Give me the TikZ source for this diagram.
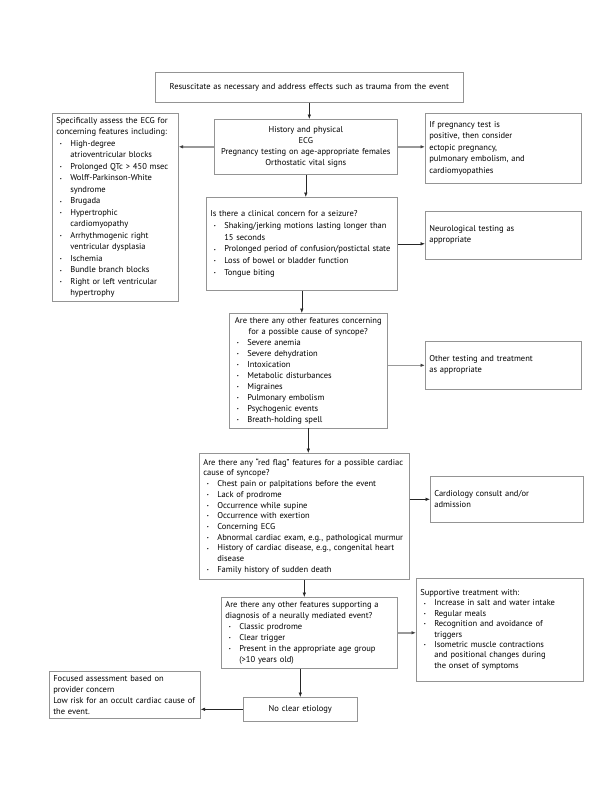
\documentclass[tikz,border=0pt]{standalone}
\usepackage{fontspec}
\setmainfont{PT Sans}
\usetikzlibrary{arrows.meta}
\hyphenpenalty=10000
\exhyphenpenalty=10000
\newcommand\nl{\hfil\break}
\newcommand\bi[1]{\par\hangindent=14pt\hangafter=1\noindent\makebox[14pt][l]{\hspace{3.5pt}\raisebox{0.8pt}{\fontsize{4.5}{4.5}\selectfont\textbullet}}#1\par}
\tikzset{
  box/.style={draw=black!42, line width=0.6pt, rectangle, inner sep=4pt, anchor=north west,
    font=\fontsize{8.5}{11}\selectfont, align=left},
  arr/.style={-{Latex[length=4.5pt,width=3.5pt]}, line width=0.6pt, draw=black!85},
  garr/.style={-{Latex[length=4.5pt,width=3.5pt,fill=black!75,color=black!75]}, line width=1.5pt, draw=black!40},
}
\begin{document}
\begin{tikzpicture}[x=1pt,y=-1pt]
\useasboundingbox (0,0) rectangle (612,792);
\fill[white] (0,0) rectangle (612,792);

\node[box, align=center, text width=300pt, minimum height=30pt] (top) at (155,72)
 {Resuscitate as necessary and address effects such as trauma from the event};

\node[box, align=center, text width=175pt, minimum height=55pt] (hist) at (214,119)
 {History and physical\\ECG\\Pregnancy testing on age-appropriate females\\Orthostatic vital signs};

\node[box, text width=118pt, minimum height=184pt, font=\fontsize{8.5}{11.5}\selectfont] (ecg) at (52,113)
 {Specifically assess the ECG for\\concerning features including:
  \bi{High-degree\nl atrioventricular blocks}
  \bi{Prolonged QTc > 450 msec}
  \bi{Wolff-Parkinson-White\nl syndrome}
  \bi{Brugada}
  \bi{Hypertrophic\nl cardiomyopathy}
  \bi{Arrhythmogenic right\nl ventricular dysplasia}
  \bi{Ischemia}
  \bi{Bundle branch blocks}
  \bi{Right or left ventricular\nl hypertrophy}};

\node[box, text width=148pt, minimum height=70pt, font=\fontsize{8.5}{11.5}\selectfont] (preg) at (425,113)
 {If pregnancy test is\\positive, then consider\\ectopic pregnancy,\\pulmonary embolism, and\\cardiomyopathies};

\node[box, text width=183pt, minimum height=93pt, font=\fontsize{8.5}{11.8}\selectfont] (seiz) at (206,197)
 {Is there a clinical concern for a seizure?
  \bi{Shaking/jerking motions lasting longer than\nl 15 seconds}
  \bi{Prolonged period of confusion/postictal state}
  \bi{Loss of bowel or bladder function}
  \bi{Tongue biting}};

\node[box, text width=148pt, minimum height=48pt] (neuro) at (425,211)
 {Neurological testing as\\appropriate};

\node[box, text width=150pt, minimum height=114pt] (other) at (229,313)
 {{\centering Are there any other features concerning\\for a possible cause of syncope?\par}
  \bi{Severe anemia}
  \bi{Severe dehydration}
  \bi{Intoxication}
  \bi{Metabolic disturbances}
  \bi{Migraines}
  \bi{Pulmonary embolism}
  \bi{Psychogenic events}
  \bi{Breath-holding spell}};

\node[box, text width=148pt, minimum height=48pt] (otest) at (425,341)
 {Other testing and treatment\\as appropriate};

\node[box, text width=202pt, minimum height=126pt, font=\fontsize{8.5}{10.7}\selectfont] (red) at (199,453)
 {Are there any ``red flag'' features for a possible cardiac\\cause of syncope?
  \bi{Chest pain or palpitations before the event}
  \bi{Lack of prodrome}
  \bi{Occurrence while supine}
  \bi{Occurrence with exertion}
  \bi{Concerning ECG}
  \bi{Abnormal cardiac exam, e.g., pathological murmur}
  \bi{History of cardiac disease, e.g., congenital heart\nl disease}
  \bi{Family history of sudden death}};

\node[box, text width=145pt, minimum height=46pt] (cardio) at (430,476)
 {Cardiology consult and/or\\admission};

\node[box, text width=168pt, minimum height=67pt] (neural) at (221,597)
 {Are there any other features supporting a\\diagnosis of a neurally mediated event?
  \bi{Classic prodrome}
  \bi{Clear trigger}
  \bi{Present in the appropriate age group\nl (>10 years old)}};

\node[box, text width=159pt, minimum height=103pt, font=\fontsize{8.5}{10.4}\selectfont] (supp) at (416,578)
 {Supportive treatment with:
  \bi{Increase in salt and water intake}
  \bi{Regular meals}
  \bi{Recognition and avoidance of\nl triggers}
  \bi{Isometric muscle contractions\nl and positional changes during\nl the onset of symptoms}};

\node[box, align=center, text width=106pt, minimum height=24pt] (noclear) at (243,697)
 {No clear etiology};

\node[box, text width=143pt, minimum height=45pt] (focus) at (49,671)
 {Focused assessment based on\\provider concern\\Low risk for an occult cardiac cause of\\the event.};

% connectors
\draw[arr] (top.south) -- (top.south |- hist.north);
\draw[garr] (hist.west) -- (hist.west -| ecg.east);
\draw[garr] (hist.east) -- (hist.east -| preg.west);
\draw[arr] (hist.south) -- (hist.south |- seiz.north);
\draw[arr] (seiz.east) -- (seiz.east -| neuro.west);
\draw[arr] (seiz.south) -- (seiz.south |- other.north);
\draw[garr] (otest.west -| other.east) -- (otest.west);
\draw[arr] (other.south) -- (other.south |- red.north);
\draw[arr] (cardio.west -| red.east) -- (cardio.west);
\draw[arr] (red.south) -- (red.south |- neural.north);
\draw[garr] (neural.east) -- (neural.east -| supp.west);
\draw[arr] (noclear.north |- neural.south) -- (noclear.north);
\draw[arr] (noclear.west) -- (noclear.west -| focus.east);
\end{tikzpicture}
\end{document}
